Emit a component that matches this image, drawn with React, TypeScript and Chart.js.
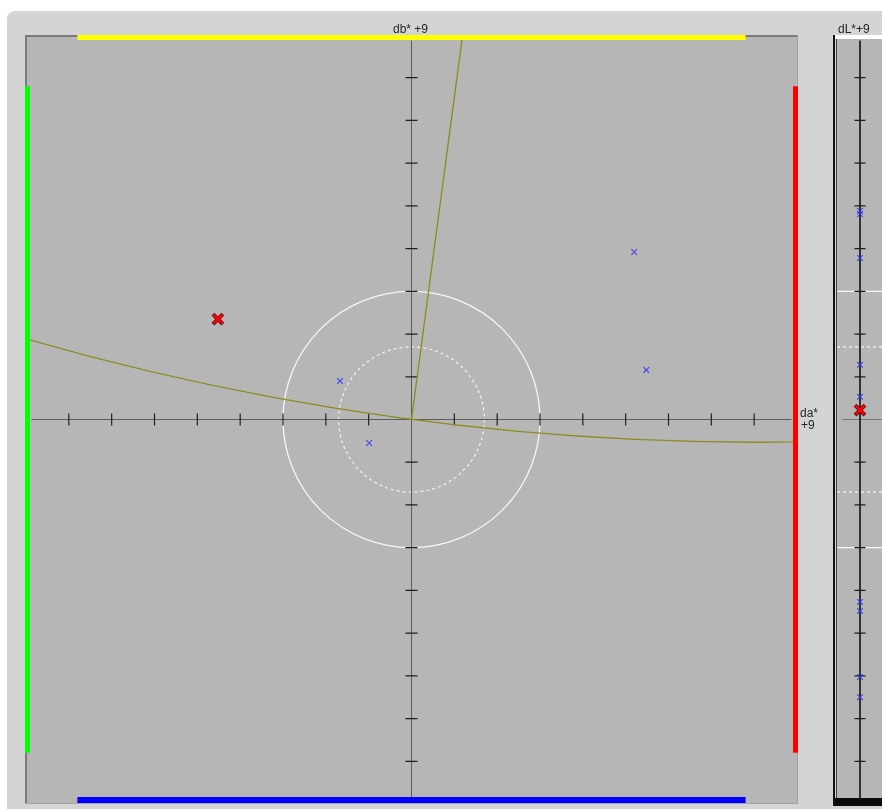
import React, { useEffect, useRef } from "react";
import { Chart, registerables } from "chart.js";

Chart.register(...registerables);

// ---- axis / reference geometry (CIELAB difference units) ----
const AXIS_MIN = -9;
const AXIS_MAX = 9;
const TICK_VALUES = [-8, -7, -6, -5, -4, -3, -2, -1, 1, 2, 3, 4, 5, 6, 7, 8];
const AXIS_EXTENT = 8.87;
const BAR_EXTENT = 7.8;
const TOL_OUTER = 3;
const TOL_INNER = 1.7;
// neutral point relative to the standard (centre of the constant-chroma arc)
const NEUTRAL_DA = 8.07;
const NEUTRAL_DB = 60.87;

// ---- samples ----
const SAMPLE_DA = [-1.67, -0.99, 5.2, 5.48, -4.52];
const SAMPLE_DB = [0.9, -0.55, 3.92, 1.16, 2.35];
const SAMPLE_DL = [4.88, 4.81, 3.78, 1.28, 0.53, -4.27, -4.48, -6.03, -6.5];
const SELECTED_DA = [-4.52];
const SELECTED_DB = [2.35];
const SELECTED_DL = [0.22];

// ---- labels ----
const LABEL_DB = "db* +9";
const LABEL_DA = ["da*", "+9"];
const LABEL_DL = "dL*+9";

const PLOT_BG = "#b6b6b6";
const PANEL_BG = "#d4d4d4";
const BLUE_MARK = "rgba(45,45,245,0.8)";
const LABEL_FONT = '12px "Liberation Sans", Arial, sans-serif';

const mainPlugin = {
  id: "mainDecor",
  beforeDatasetsDraw(chart: any) {
    const { ctx, chartArea: a } = chart;
    const x = chart.scales.x;
    const y = chart.scales.y;
    ctx.save();
    ctx.fillStyle = PLOT_BG;
    ctx.fillRect(a.left, a.top, a.right - a.left, a.bottom - a.top);
    const cx = x.getPixelForValue(0);
    const cy = y.getPixelForValue(0);
    const rx = (r: number) => Math.abs(x.getPixelForValue(r) - cx);
    const ry = (r: number) => Math.abs(y.getPixelForValue(r) - cy);

    // tolerance circles
    ctx.strokeStyle = "#f6f6f6";
    ctx.lineWidth = 1.3;
    ctx.beginPath();
    ctx.ellipse(cx, cy, rx(TOL_OUTER), ry(TOL_OUTER), 0, 0, Math.PI * 2);
    ctx.stroke();
    ctx.setLineDash([3, 3]);
    ctx.lineWidth = 1.1;
    ctx.beginPath();
    ctx.ellipse(cx, cy, rx(TOL_INNER), ry(TOL_INNER), 0, 0, Math.PI * 2);
    ctx.stroke();
    ctx.setLineDash([]);

    // axes
    ctx.strokeStyle = "#5c5c5c";
    ctx.lineWidth = 1;
    ctx.beginPath();
    ctx.moveTo(x.getPixelForValue(-AXIS_EXTENT), cy);
    ctx.lineTo(x.getPixelForValue(AXIS_EXTENT), cy);
    ctx.moveTo(cx, y.getPixelForValue(AXIS_EXTENT));
    ctx.lineTo(cx, y.getPixelForValue(-AXIS_EXTENT));
    ctx.stroke();
    ctx.strokeStyle = "#1e1e1e";
    ctx.lineWidth = 1.2;
    ctx.beginPath();
    for (const t of TICK_VALUES) {
      const px = x.getPixelForValue(t);
      ctx.moveTo(px, cy - 6);
      ctx.lineTo(px, cy + 6);
      const py = y.getPixelForValue(t);
      ctx.moveTo(cx - 6, py);
      ctx.lineTo(cx + 6, py);
    }
    ctx.stroke();

    // hue / chroma reference lines
    ctx.save();
    ctx.beginPath();
    ctx.rect(a.left, a.top, a.right - a.left, a.bottom - a.top);
    ctx.clip();
    ctx.strokeStyle = "#8c8c1c";
    ctx.lineWidth = 1.3;
    const nx = x.getPixelForValue(NEUTRAL_DA);
    const ny = y.getPixelForValue(NEUTRAL_DB);
    ctx.beginPath();
    ctx.moveTo(cx, cy);
    ctx.lineTo(nx, ny);
    ctx.stroke();
    const R = Math.hypot(NEUTRAL_DA, NEUTRAL_DB);
    ctx.beginPath();
    ctx.ellipse(nx, ny, Math.abs(x.getPixelForValue(NEUTRAL_DA + R) - nx), Math.abs(y.getPixelForValue(NEUTRAL_DB + R) - ny), 0, 0, Math.PI * 2);
    ctx.stroke();
    ctx.restore();
    ctx.restore();
  },
  afterDraw(chart: any) {
    const { ctx, chartArea: a } = chart;
    const x = chart.scales.x;
    const y = chart.scales.y;
    ctx.save();
    // sunken frame
    ctx.fillStyle = "#7a7a7a";
    ctx.fillRect(a.left - 1, a.top, a.right - a.left + 2, 2);
    ctx.fillRect(a.left - 1, a.top, 2, a.bottom - a.top);
    ctx.fillStyle = "#a2a2a2";
    ctx.fillRect(a.left - 1, a.bottom - 1, a.right - a.left + 2, 1);
    ctx.fillRect(a.right, a.top, 1, a.bottom - a.top);
    // direction bars
    const b0 = x.getPixelForValue(-BAR_EXTENT);
    const b1 = x.getPixelForValue(BAR_EXTENT);
    ctx.fillStyle = "#ffff00";
    ctx.fillRect(b0, a.top, b1 - b0, 5);
    ctx.fillStyle = "#0000ff";
    ctx.fillRect(b0, a.bottom - 7, b1 - b0, 6);
    const v0 = y.getPixelForValue(BAR_EXTENT);
    const v1 = y.getPixelForValue(-BAR_EXTENT);
    ctx.fillStyle = "#00ff00";
    ctx.fillRect(a.left - 1, v0, 5, v1 - v0);
    ctx.fillStyle = "#ff0000";
    ctx.fillRect(a.right - 4, v0, 5, v1 - v0);
    // labels
    ctx.fillStyle = "#262626";
    ctx.font = LABEL_FONT;
    ctx.textBaseline = "alphabetic";
    ctx.textAlign = "center";
    ctx.fillText(LABEL_DB, x.getPixelForValue(0) - 1, a.top - 2);
    ctx.textAlign = "left";
    const cy = y.getPixelForValue(0);
    ctx.fillText(LABEL_DA[0], a.right + 3, cy - 3);
    ctx.fillText(LABEL_DA[1], a.right + 4, cy + 9);
    ctx.restore();
  },
};

const dlPlugin = {
  id: "dlDecor",
  beforeDatasetsDraw(chart: any) {
    const { ctx, chartArea: a } = chart;
    const x = chart.scales.x;
    const y = chart.scales.y;
    ctx.save();
    ctx.fillStyle = PLOT_BG;
    ctx.fillRect(a.left, a.top, a.right - a.left, a.bottom - a.top);
    const cx = x.getPixelForValue(0);
    // tolerance lines
    ctx.strokeStyle = "#f6f6f6";
    ctx.lineWidth = 1.3;
    ctx.beginPath();
    for (const s of [1, -1]) {
      const py = y.getPixelForValue(s * TOL_OUTER);
      ctx.moveTo(a.left, py);
      ctx.lineTo(a.right, py);
    }
    ctx.stroke();
    ctx.setLineDash([3, 3]);
    ctx.lineWidth = 1.1;
    ctx.beginPath();
    for (const s of [1, -1]) {
      const py = y.getPixelForValue(s * TOL_INNER);
      ctx.moveTo(a.left, py);
      ctx.lineTo(a.right, py);
    }
    ctx.stroke();
    ctx.setLineDash([]);
    // zero line
    ctx.strokeStyle = "#777777";
    ctx.lineWidth = 1;
    ctx.beginPath();
    ctx.moveTo(a.left + 5, y.getPixelForValue(0));
    ctx.lineTo(a.right, y.getPixelForValue(0));
    ctx.stroke();
    // axis
    ctx.strokeStyle = "#111111";
    ctx.lineWidth = 1.6;
    ctx.beginPath();
    ctx.moveTo(cx, y.getPixelForValue(AXIS_EXTENT));
    ctx.lineTo(cx, a.bottom);
    ctx.stroke();
    ctx.strokeStyle = "#1e1e1e";
    ctx.lineWidth = 1.2;
    ctx.beginPath();
    for (const t of TICK_VALUES) {
      const py = y.getPixelForValue(t);
      ctx.moveTo(cx - 5.5, py);
      ctx.lineTo(cx + 5.5, py);
    }
    ctx.stroke();
    ctx.restore();
  },
  afterDraw(chart: any) {
    const { ctx, chartArea: a } = chart;
    ctx.save();
    ctx.fillStyle = "#111111";
    ctx.fillRect(a.left - 4, a.top, 2, a.bottom - a.top + 2);
    ctx.fillStyle = "#444444";
    ctx.fillRect(a.left - 1, a.top, 1, a.bottom - a.top + 2);
    ctx.fillStyle = "#ffffff";
    ctx.fillRect(a.left - 2, a.top, a.right - a.left + 2, 4);
    ctx.fillStyle = "#0a0a0a";
    ctx.fillRect(a.left - 2, a.bottom - 6, a.right - a.left + 2, 8);
    ctx.fillStyle = "#262626";
    ctx.font = LABEL_FONT;
    ctx.textAlign = "left";
    ctx.textBaseline = "alphabetic";
    ctx.fillText(LABEL_DL, a.left + 1, a.top - 2);
    ctx.restore();
  },
};

function baseOptions(padding: any, xMin: number, xMax: number) {
  return {
    responsive: false,
    animation: false as const,
    events: [] as any[],
    layout: { padding, autoPadding: false },
    plugins: { legend: { display: false }, tooltip: { enabled: false } },
    scales: {
      x: { type: "linear" as const, min: xMin, max: xMax, display: false },
      y: { type: "linear" as const, min: AXIS_MIN, max: AXIS_MAX, display: false },
    },
  };
}

export default function App() {
  const mainRef = useRef<HTMLCanvasElement>(null);
  const dlRef = useRef<HTMLCanvasElement>(null);

  useEffect(() => {
    const main = new Chart(mainRef.current as HTMLCanvasElement, {
      type: "scatter",
      data: {
        datasets: [
          {
            data: SELECTED_DA.map((v, i) => ({ x: v, y: SELECTED_DB[i] })),
            pointStyle: "crossRot",
            pointRadius: 6.5,
            borderWidth: 2.6,
            borderColor: "#ff0000",
            order: 1,
          },
          {
            data: SELECTED_DA.map((v, i) => ({ x: v, y: SELECTED_DB[i] })),
            pointStyle: "crossRot",
            pointRadius: 7,
            borderWidth: 4,
            borderColor: "#3a1020",
            order: 2,
          },
          {
            data: SAMPLE_DA.map((v, i) => ({ x: v, y: SAMPLE_DB[i] })),
            pointStyle: "crossRot",
            pointRadius: 4,
            borderWidth: 1.2,
            borderColor: BLUE_MARK,
            order: 3,
          },
        ],
      },
      options: baseOptions({ left: 26, top: 35, right: 33, bottom: 5 }, AXIS_MIN, AXIS_MAX) as any,
      plugins: [mainPlugin],
    });

    const dl = new Chart(dlRef.current as HTMLCanvasElement, {
      type: "scatter",
      data: {
        datasets: [
          {
            data: SELECTED_DL.map((v) => ({ x: 0, y: v })),
            pointStyle: "crossRot",
            pointRadius: 6.5,
            borderWidth: 2.6,
            borderColor: "#ff0000",
            order: 1,
          },
          {
            data: SELECTED_DL.map((v) => ({ x: 0, y: v })),
            pointStyle: "crossRot",
            pointRadius: 7,
            borderWidth: 4,
            borderColor: "#3a1020",
            order: 2,
          },
          {
            data: SAMPLE_DL.map((v) => ({ x: 0, y: v })),
            pointStyle: "crossRot",
            pointRadius: 4,
            borderWidth: 1.2,
            borderColor: BLUE_MARK,
            order: 3,
          },
        ],
      },
      options: baseOptions({ left: 11, top: 35, right: 7, bottom: 5 }, -1, 1) as any,
      plugins: [dlPlugin],
    });

    return () => {
      main.destroy();
      dl.destroy();
    };
  }, []);

  return (
    <div style={{ position: "absolute", left: 0, top: 0, width: 882, height: 809, background: "#ffffff", overflow: "hidden" }}>
      <div style={{ position: "absolute", left: 7, top: 11, width: 900, height: 820, background: PANEL_BG, borderTopLeftRadius: 8 }} />
      <canvas ref={mainRef} width={830} height={809} style={{ position: "absolute", left: 0, top: 0 }} />
      <canvas ref={dlRef} width={64} height={809} style={{ position: "absolute", left: 826, top: 0 }} />
    </div>
  );
}
